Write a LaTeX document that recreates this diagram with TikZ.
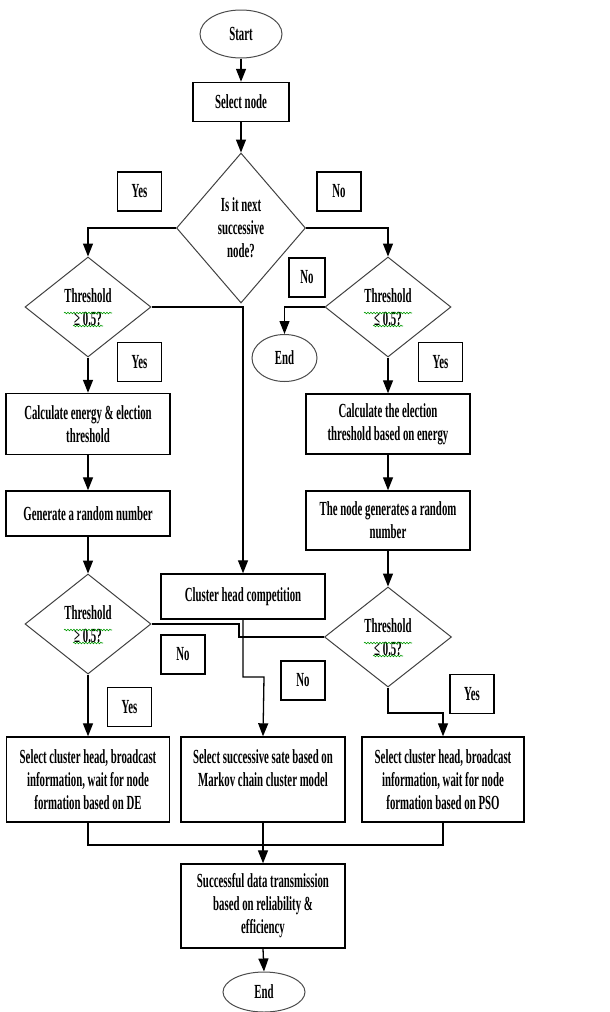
\documentclass[tikz,border=0pt]{standalone}
\usepackage{fontspec}
\setmainfont{Liberation Serif}[FakeStretch=0.54]
\usetikzlibrary{shapes.geometric,arrows.meta,decorations.pathmorphing}
\begin{document}
\begin{tikzpicture}[x=1pt,y=-1pt,
  font=\fontsize{20}{23}\selectfont\bfseries,
  every node/.style={inner sep=0pt, align=center},
  box/.style={draw=black, line width=1.4pt, rectangle},
  dia/.style={diamond, draw=black!75, line width=1pt},
  oval/.style={ellipse, draw=black!70, line width=1pt},
  tag/.style={draw=black, line width=1.2pt, minimum width=44pt, minimum height=39pt},
  conn/.style={line width=1.3pt, draw=black},
  arr/.style={conn, -{Triangle[width=10pt,length=13pt]}},
  wavy/.style={draw=green!60!black, line width=0.6pt, decorate, decoration={snake, amplitude=0.8pt, segment length=3pt}}
]
\useasboundingbox (0,0) rectangle (610,1012);

% main flow nodes
\node[oval, minimum width=82pt, minimum height=48pt] (start) at (241,34) {Start};
\node[box, minimum width=96pt, minimum height=39pt] (sel) at (241,102) {Select node};
\node[dia, minimum width=129pt, minimum height=150pt] (d1) at (241,228) {Is it next\\successive\\node?};

\node[dia, minimum width=126pt, minimum height=100pt] (d2) at (88,307) {Threshold\\≥ 0.5?};
\node[dia, minimum width=126pt, minimum height=100pt] (d3) at (388,307) {Threshold\\≤ 0.5?};
\node[oval, minimum width=65pt, minimum height=47pt] (end1) at (284.5,358) {End};

\node[box, minimum width=164pt, minimum height=61pt] (l1) at (88,424) {Calculate energy \& election\\threshold};
\node[box, minimum width=164pt, minimum height=45pt] (l2) at (88,513.5) {Generate a random number};
\node[box, minimum width=164pt, minimum height=60pt] (r1) at (388,424) {Calculate the election\\threshold based on energy};
\node[box, minimum width=164pt, minimum height=59pt] (r2) at (388,520.5) {The node generates a random\\number};

\node[box, minimum width=164pt, minimum height=45pt] (chc) at (243,596.5) {Cluster head competition};

\node[dia, minimum width=126pt, minimum height=100pt] (d4) at (88,624) {Threshold\\≥ 0.5?};
\node[dia, minimum width=127pt, minimum height=100pt] (d5) at (388,637) {Threshold\\≤ 0.5?};

\node[box, minimum width=163pt, minimum height=85pt] (b1) at (88,779.5) {Select cluster head, broadcast\\information, wait for node\\formation based on DE};
\node[box, minimum width=164pt, minimum height=85pt] (b2) at (263,779.5) {Select successive sate based on\\Markov chain cluster model\\\mbox{}};
\node[box, minimum width=162pt, minimum height=85pt] (b3) at (443,779.5) {Select cluster head, broadcast\\information, wait for node\\formation based on PSO};

\node[box, minimum width=164pt, minimum height=84pt] (fin) at (263,906) {Successful data transmission\\based on reliability \&\\efficiency};
\node[oval, minimum width=82pt, minimum height=40pt] (end2) at (264,992) {End};

% Yes / No tags
\node[tag] (y1) at (139.5,191.5) {Yes};
\node[tag] (n1) at (339,191.5) {No};
\node[tag, minimum width=36pt] (n2) at (307,277.5) {No};
\node[tag] (y2) at (139.5,362) {Yes};
\node[tag] (y3) at (440.5,362) {Yes};
\node[tag] (n3) at (183,654.5) {No};
\node[tag] (n4) at (303,680.5) {No};
\node[tag] (y4) at (129.5,707) {Yes};
\node[tag] (y5) at (472,694) {Yes};

% helper coordinates
\coordinate (k1) at (239,630);
\coordinate (k2) at (264,677);
\coordinate (k3) at (443,713);
\coordinate (k4) at (263,845);

% connectors
\draw[arr] (start.south) -- (sel.north);
\draw[arr] (sel.south) -- (d1.north);
\draw[arr] (d1.west) -| (d2.north);
\draw[arr] (d1.east) -| (d3.north);
\draw[arr] (d2.east) -| (chc.north);
\draw[arr] (d3.west) -| (end1.north);
\draw[arr] (d2.south) -- (l1.north);
\draw[arr] (l1.south) -- (l2.north);
\draw[arr] (l2.south) -- (d4.north);
\draw[arr] (d3.south) -- (r1.north);
\draw[arr] (r1.south) -- (r2.north);
\draw[arr] (r2.south) -- (d5.north);
\draw[conn] (d4.east) -- (d4.east -| k1) -- (k1 |- d5.west) -- (d5.west);
\draw[arr] (chc.south) -- (chc.south |- k2) -- (k2) -- (b2.north);
\draw[arr] (d4.south) -- (b1.north);
\draw[arr] (d5.south) -- (d5.south |- k3) -| (b3.north);
\draw[conn] (b1.south) |- (k4) -| (b3.south);
\draw[arr] (b2.south) -- (fin.north);
\draw[arr] (fin.south) -- (end2.north);

% spell-check underlines
\foreach \d in {d2,d3,d4,d5}{
  \draw[wavy] ([xshift=-24pt,yshift=-6pt]\d.center) -- ([xshift=24pt,yshift=-6pt]\d.center);
  \draw[wavy] ([xshift=-15pt,yshift=-19pt]\d.center) -- ([xshift=15pt,yshift=-19pt]\d.center);
}
\end{tikzpicture}
\end{document}
